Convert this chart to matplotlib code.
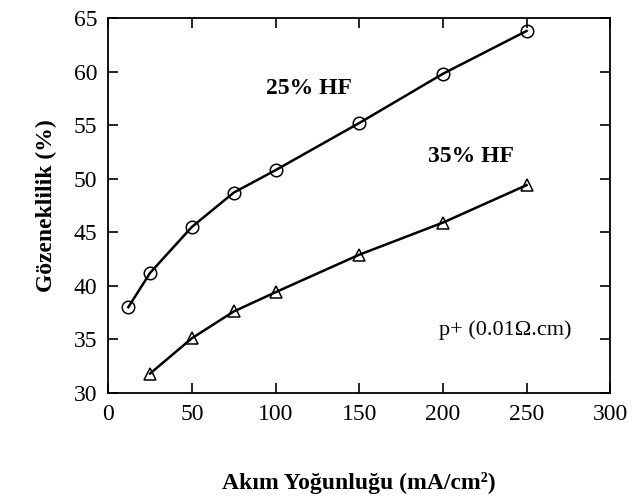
import matplotlib.pyplot as plt

plt.rcParams['font.family'] = ['Liberation Serif', 'DejaVu Serif']

x_25 = [12, 25, 50, 75, 100, 150, 200, 250]
y_25 = [38.0, 41.2, 45.5, 48.7, 50.8, 55.2, 59.8, 63.8]
x_35 = [25, 50, 75, 100, 150, 200, 250]
y_35 = [31.8, 35.1, 37.6, 39.4, 42.9, 45.9, 49.4]

fig = plt.figure(figsize=(6.33, 5.03), dpi=100)
ax = fig.add_axes([0.171, 0.219, 0.793, 0.745])

ax.plot(x_25, y_25, color='black', lw=1.8, marker='o', ms=9,
        mfc='none', mec='black', mew=1.1)
ax.plot(x_35, y_35, color='black', lw=1.8, marker='^', ms=8,
        mfc='none', mec='black', mew=1.1)

ax.set_xlim(0, 300)
ax.set_ylim(30, 65)
ax.set_xticks(range(0, 301, 50))
ax.set_yticks(range(30, 66, 5))
ax.tick_params(direction='in', length=7, width=1.2, top=True, right=True,
               labelsize=17, pad=8)
for s in ax.spines.values():
    s.set_linewidth(1.3)

ax.text(0.40, 0.813, '25% HF', transform=ax.transAxes, fontsize=17,
        fontweight='bold', ha='center', va='center')
ax.text(0.723, 0.63, '35% HF', transform=ax.transAxes, fontsize=17,
        fontweight='bold', ha='center', va='center')
ax.text(0.79, 0.168, 'p+ (0.01\u03a9.cm)', transform=ax.transAxes,
        fontsize=16, ha='center', va='center')

ax.set_xlabel('Ak\u0131m Yo\u011funlu\u011fu (mA/cm\u00b2)',
              fontsize=17, fontweight='bold', labelpad=34)
ax.set_ylabel('G\u00f6zeneklilik (%)', fontsize=17, fontweight='bold',
              labelpad=12)

plt.savefig('out.png', dpi=100)
